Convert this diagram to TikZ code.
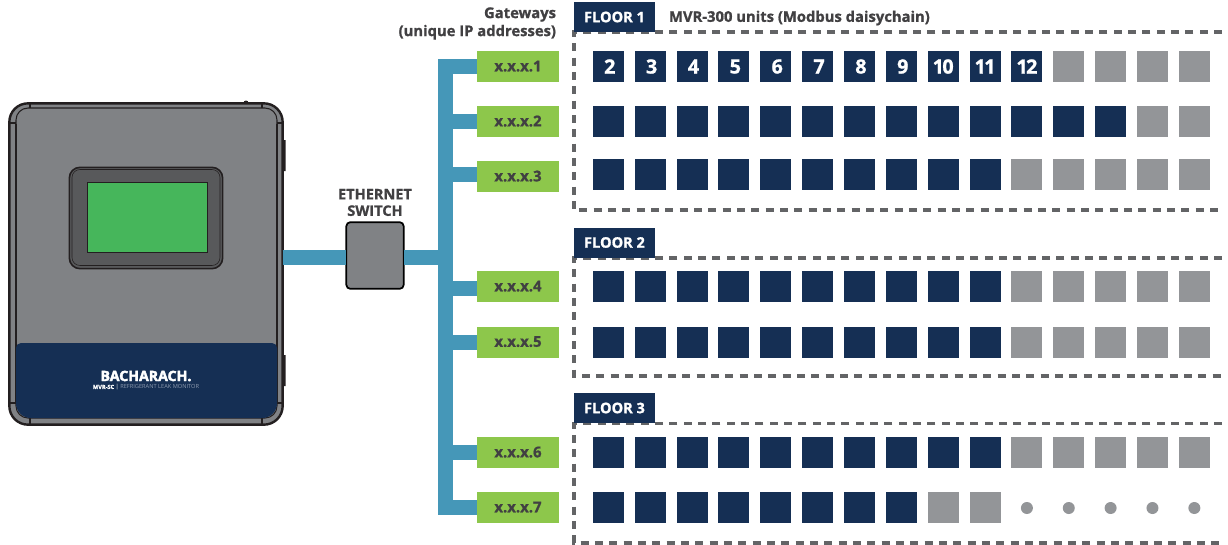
\documentclass[tikz,border=0pt]{standalone}
\usepackage{fontspec}
\setmainfont{Open Sans}[BoldFeatures={FakeBold=1.1}]
\newfontfamily\heavyfont{Open Sans}[BoldFeatures={FakeBold=3}]
\usetikzlibrary{calc}
\definecolor{navy}{HTML}{152F54}
\definecolor{unitgrey}{HTML}{939598}
\definecolor{gwgreen}{HTML}{8DC74B}
\definecolor{busblue}{HTML}{4597B8}
\definecolor{bodygrey}{HTML}{808285}
\definecolor{bezel}{HTML}{58595B}
\definecolor{screen}{HTML}{46B65B}
\definecolor{ink}{HTML}{414042}
\definecolor{dashgrey}{HTML}{636466}
\definecolor{edge}{HTML}{231F20}
\definecolor{subtxt}{HTML}{8E9BB0}
\newcommand{\gwtext}[1]{\raisebox{0.8pt}{#1}}
\newcommand{\unitnum}[1]{\hspace*{2.2pt}\raisebox{-0.6pt}{#1}}
\newcommand{\unitpair}[2]{\raisebox{-0.6pt}{#1\kern-1.2pt #2}}
\tikzset{
  x=0.75pt,y=-0.75pt,
  every node/.style={inner sep=0pt,outer sep=0pt},
  unit/.style={minimum width=23.25pt,minimum height=23.25pt,font=\fontsize{14.8}{14.8}\selectfont\bfseries,text=white},
  navyunit/.style={unit,fill=navy},
  greyunit/.style={unit,fill=unitgrey},
  dotunit/.style={circle,fill=unitgrey,minimum size=9pt},
  gateway/.style={fill=gwgreen,minimum width=61.5pt,minimum height=23.25pt,font=\fontsize{11.2}{11.2}\selectfont\bfseries,text=ink},
  floortag/.style={fill=navy,minimum width=60.75pt,minimum height=22.5pt,font=\fontsize{10.9}{10.9}\selectfont\bfseries,text=white},
  caption/.style={font=\fontsize{11.1}{13.5}\selectfont\bfseries,text=ink},
  bus/.style={draw=busblue,line width=11.25pt,line cap=butt,line join=miter},
  zone/.style={draw=dashgrey,line width=2.4pt,dash pattern=on 6pt off 4.75pt},
  thinedge/.style={draw=edge,line width=0.8pt},
}
\begin{document}
\begin{tikzpicture}
\useasboundingbox (0,0) rectangle (1228,544);
% device
\fill[edge] (283,140) rectangle (285.5,171) (283,355) rectangle (285.5,386);
\fill[edge] (246,103) circle (2.5);
\node[draw=edge,line width=1.8pt,fill=bodygrey,rounded corners=14pt,minimum width=205pt,minimum height=241pt] (device) at (146,264) {};
\draw[thinedge,rounded corners=9pt] (16,125) -- (16,108) -- (277,108) -- (277,125);
\draw[thinedge,rounded corners=9pt] (16,400) -- (16,418) -- (277,418) -- (277,400);
\draw[thinedge] (30,103) -- (30,108) (262,103) -- (262,108) (9,123) -- (16,123) (277,123) -- (283,123)
  (30,425) -- (30,418) (262,425) -- (262,418) (9,403) -- (16,403) (277,403) -- (283,403);
\draw[thinedge] (16,124) -- (16,403) (277,124) -- (277,403);
\fill[navy,rounded corners=3.75pt] (16,380) -- (16,343) -- (277,343) -- (277,380) [rounded corners=11pt] -- (277,418) -- (16,418) -- cycle;
\node[draw=edge,line width=1.2pt,fill=bezel,rounded corners=8pt,minimum width=115pt,minimum height=76pt] (bezel) at (146,218) {};
\node[draw=edge,line width=0.4pt,rounded corners=6pt,minimum width=111pt,minimum height=72pt] (bezelinner) at (146,217.5) {};
\node[draw=edge,line width=0.7pt,fill=screen,minimum width=90pt,minimum height=53pt] (screen) at (147,217.5) {};
\node[font=\fontsize{10.6}{10.6}\heavyfont\bfseries,text=white] (brand) at (146,376) {BACHARACH.};
\node[font=\fontsize{4.25}{4.25}\selectfont,text=subtxt] (model) at (146,387.5) {\textcolor{white}{\bfseries MVR-SC} \textcolor{white}{|} REFRIGERANT LEAK MONITOR};
% switch
\node[draw=black,line width=1.3pt,fill=bodygrey,rounded corners=3pt,minimum width=43pt,minimum height=50pt] (switch) at (375,255.5) {};
\node[caption,align=center,font=\fontsize{10.9}{12.4}\selectfont\bfseries] (switchlabel) at (375,202.5) {ETHERNET\\SWITCH};
% gateways
\node[gateway] (g1) at (518,66.5) {\gwtext{x.x.x.1}};
\node[gateway] (g2) at (518,121.5) {\gwtext{x.x.x.2}};
\node[gateway] (g3) at (518,176.5) {\gwtext{x.x.x.3}};
\node[gateway] (g4) at (518,286.5) {\gwtext{x.x.x.4}};
\node[gateway] (g5) at (518,342) {\gwtext{x.x.x.5}};
\node[gateway] (g6) at (518,452.5) {\gwtext{x.x.x.6}};
\node[gateway] (g7) at (518,507.5) {\gwtext{x.x.x.7}};
\coordinate (busx) at (445.5,257.5);
\draw[bus] (g1.west) -| (busx) |- (g7.west);
\draw[bus] (g2.west) -- (g2.west -| busx);
\draw[bus] ([yshift=1.5pt]g3.west) -- ([yshift=1.5pt]g3.west -| busx);
\draw[bus] ([yshift=-1.5pt]g4.west) -- ([yshift=-1.5pt]g4.west -| busx);
\draw[bus] (g5.west) -- (g5.west -| busx);
\draw[bus] (g6.west) -- (g6.west -| busx);
\draw[bus] (switch.east |- busx) -- (busx);
\draw[bus] (device.east |- busx) -- (switch.west |- busx);
% captions
\node[caption,align=right,anchor=east] (gwlabel) at (556,23.5) {Gateways\\(unique IP addresses)};
\node[caption,anchor=west] (mvr) at (669,18) {MVR-300 units (Modbus daisychain)};
% floors
\draw[zone] (1222,32) -- (574,32) -- (574,210) -- (1222,210);
\draw[zone] (1222,258) -- (574,258) -- (574,376) -- (1222,376);
\draw[zone] (1222,423.5) -- (574,423.5) -- (574,543) -- (1222,543);
\node[floortag] (f1) at (614.5,17) {FLOOR 1};
\node[floortag] (f2) at (614.5,242.5) {FLOOR 2};
\node[floortag] (f3) at (614.5,408) {FLOOR 3};
% units: row y centre / navy count
\foreach \r/\y/\n in {2/121.5/13,3/174.5/10,4/286.5/10,5/342.5/10,6/452.5/10}{
  \foreach \i in {1,...,15}{
    \pgfmathsetmacro{\ux}{608.3+41.86*(\i-1)}
    \ifnum\i>\n\relax
      \node[greyunit] (u\r-\i) at (\ux,\y) {};
    \else
      \node[navyunit] (u\r-\i) at (\ux,\y) {};
    \fi
  }
}
\foreach \i/\t in {1/2,2/3,3/4,4/5,5/6,6/7,7/8,8/9}{
  \pgfmathsetmacro{\ux}{608.3+41.86*(\i-1)}
  \node[navyunit] (u1-\i) at (\ux,66.5) {\unitnum{\t}};
}
\foreach \i/\a/\b in {9/1/0,10/1/1,11/1/2}{
  \pgfmathsetmacro{\ux}{608.3+41.86*(\i-1)}
  \node[navyunit] (u1-\i) at (\ux,66.5) {\unitpair{\a}{\b}};
}
\foreach \i in {12,...,15}{
  \pgfmathsetmacro{\ux}{608.3+41.86*(\i-1)}
  \node[greyunit] (u1-\i) at (\ux,66.5) {};
}
\foreach \i in {1,...,8}{
  \pgfmathsetmacro{\ux}{608.3+41.86*(\i-1)}
  \node[navyunit] (u7-\i) at (\ux,507.5) {};
}
\foreach \i in {9,10}{
  \pgfmathsetmacro{\ux}{608.3+41.86*(\i-1)}
  \node[greyunit] (u7-\i) at (\ux,507.5) {};
}
\foreach \i in {11,...,15}{
  \pgfmathsetmacro{\ux}{608.3+41.86*(\i-1)}
  \node[dotunit] (u7-\i) at (\ux,508) {};
}
\end{tikzpicture}
\end{document}
